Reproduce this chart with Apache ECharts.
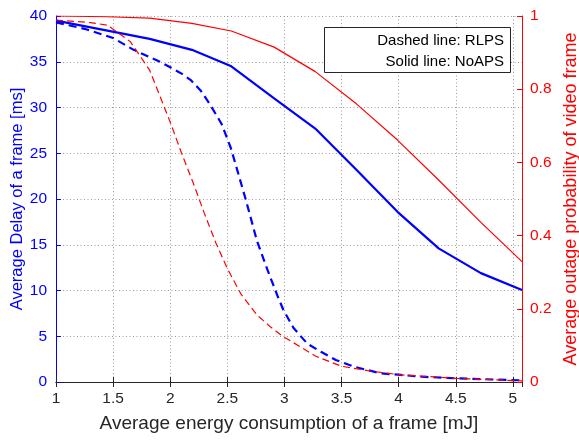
<!DOCTYPE html>
<html>
<head>
<meta charset="utf-8">
<script src="https://cdn.jsdelivr.net/npm/echarts@6/dist/echarts.min.js"></script>
<style>
  html, body { margin: 0; padding: 0; background: #fff; }
  #main { width: 579px; height: 440px; }
</style>
</head>
<body>
<div id="main"></div>
<script>
// chart data
var noapsEnergy = [1.0, 1.45, 1.82, 2.19, 2.535, 2.91, 3.27, 3.63, 3.99, 4.35, 4.72, 5.08];
var noapsDelay = [39.5, 38.4, 37.5, 36.3, 34.5, 31.0, 27.7, 23.2, 18.6, 14.6, 11.9, 10.05];
var noapsOutage = [1.0, 0.998, 0.994, 0.98, 0.959, 0.915, 0.848, 0.76, 0.661, 0.552, 0.436, 0.329];

var rlpsDelayEnergy = [1.0, 1.25, 1.5, 1.68, 1.91, 2.0, 2.1, 2.18, 2.27, 2.35, 2.45, 2.53, 2.6, 2.66, 2.76, 2.85, 2.94, 2.99, 3.08, 3.2, 3.32, 3.45, 3.61, 3.84, 4.02, 4.2, 4.5, 5.08];
var rlpsDelay = [39.3, 38.6, 37.6, 36.3, 35.0, 34.4, 33.7, 33.0, 31.8, 30.3, 28.2, 25.6, 22.6, 20.0, 15.4, 12.3, 9.4, 7.9, 5.9, 4.2, 3.3, 2.4, 1.67, 0.95, 0.77, 0.58, 0.4, 0.18];

var rlpsOutageEnergy = [1.0, 1.3, 1.45, 1.5, 1.65, 1.82, 2.0, 2.1, 2.2, 2.3, 2.4, 2.5, 2.62, 2.76, 2.88, 2.99, 3.14, 3.27, 3.5, 3.75, 4.0, 4.5, 5.08];
var rlpsOutage = [0.989, 0.982, 0.975, 0.964, 0.93, 0.852, 0.71, 0.625, 0.545, 0.46, 0.38, 0.31, 0.24, 0.183, 0.15, 0.124, 0.096, 0.071, 0.043, 0.03, 0.02, 0.01, 0.003];

var legendLines = ['Dashed line: RLPS', 'Solid line: NoAPS'];

function pairs(xs, ys) {
    return xs.map(function (x, i) { return [x, ys[i]]; });
}

var FONT = 'Liberation Sans, Arial, sans-serif';
var BLUE = '#0000ff';
var RED = '#ff0000';
var DARK = '#262626';
var gridLine = { show: true, lineStyle: { color: '#9a9a9a', width: 1, type: [1, 2.5] } };

var myChart = echarts.init(document.getElementById('main'));

var option = {
    animation: false,
    backgroundColor: '#fff',
    textStyle: { fontFamily: FONT },
    grid: { left: 56, right: 57, top: 16, bottom: 58, containLabel: false, outerBoundsMode: 'none' },
    xAxis: [{
        type: 'value',
        min: 1, max: 5.08, interval: 0.5,
        name: 'Average energy consumption of a frame [mJ]',
        nameLocation: 'middle', nameGap: 32, nameMoveOverlap: false,
        nameTextStyle: { color: DARK, fontSize: 19, fontFamily: FONT },
        axisLine: { lineStyle: { color: DARK, width: 1 } },
        axisTick: { inside: true, length: 5, lineStyle: { color: DARK } },
        axisLabel: { color: DARK, fontSize: 15.5, margin: 9, showMaxLabel: false, fontFamily: FONT },
        splitLine: gridLine
    }, {
        type: 'value', position: 'top',
        min: 1, max: 5.08, interval: 0.5,
        axisLine: { show: true, lineStyle: { color: DARK, width: 1 } },
        axisTick: { inside: true, length: 5, lineStyle: { color: DARK } },
        axisLabel: { show: false },
        splitLine: { show: false }
    }],
    yAxis: [{
        type: 'value',
        min: 0, max: 40, interval: 5,
        name: 'Average Delay of a frame [ms]',
        nameLocation: 'middle', nameGap: 30, nameMoveOverlap: false,
        nameTextStyle: { color: BLUE, fontSize: 16.5, fontFamily: FONT },
        axisLine: { show: true, lineStyle: { color: BLUE, width: 1 } },
        axisTick: { show: true, inside: true, length: 5, lineStyle: { color: BLUE } },
        axisLabel: { color: BLUE, fontSize: 15.5, margin: 9, fontFamily: FONT },
        splitLine: gridLine
    }, {
        type: 'value', position: 'right',
        min: 0, max: 1, interval: 0.2,
        name: 'Average outage probability of video frame',
        nameLocation: 'middle', nameGap: 40, nameRotate: 90, nameMoveOverlap: false,
        nameTextStyle: { color: RED, fontSize: 18, fontFamily: FONT },
        axisLine: { show: true, lineStyle: { color: RED, width: 1 } },
        axisTick: { show: true, inside: true, length: 5, lineStyle: { color: RED } },
        axisLabel: { color: RED, fontSize: 15.5, margin: 8, fontFamily: FONT },
        splitLine: { show: false }
    }],
    series: [{
        name: 'RLPS delay',
        type: 'line', yAxisIndex: 0, showSymbol: false,
        data: pairs(rlpsDelayEnergy, rlpsDelay),
        lineStyle: { color: BLUE, width: 2.2, type: [8, 5] }
    }, {
        name: 'NoAPS delay',
        type: 'line', yAxisIndex: 0, showSymbol: false,
        data: pairs(noapsEnergy, noapsDelay),
        lineStyle: { color: BLUE, width: 2.2 }
    }, {
        name: 'RLPS outage',
        type: 'line', yAxisIndex: 1, showSymbol: false,
        data: pairs(rlpsOutageEnergy, rlpsOutage),
        lineStyle: { color: RED, width: 1.2, type: [7, 4] }
    }, {
        name: 'NoAPS outage',
        type: 'line', yAxisIndex: 1, showSymbol: false,
        data: pairs(noapsEnergy, noapsOutage),
        lineStyle: { color: RED, width: 1.2 }
    }],
    graphic: [{
        type: 'rect',
        shape: { x: 324.5, y: 27.5, width: 186, height: 45 },
        style: { fill: '#fff', stroke: DARK, lineWidth: 1 },
        z: 100
    }, {
        type: 'text', x: 504, y: 41, z: 101,
        style: { text: legendLines[0], align: 'right', verticalAlign: 'middle', fill: '#000', font: '15px ' + FONT }
    }, {
        type: 'text', x: 504, y: 62, z: 101,
        style: { text: legendLines[1], align: 'right', verticalAlign: 'middle', fill: '#000', font: '15px ' + FONT }
    }]
};

myChart.setOption(option);
</script>
</body>
</html>
